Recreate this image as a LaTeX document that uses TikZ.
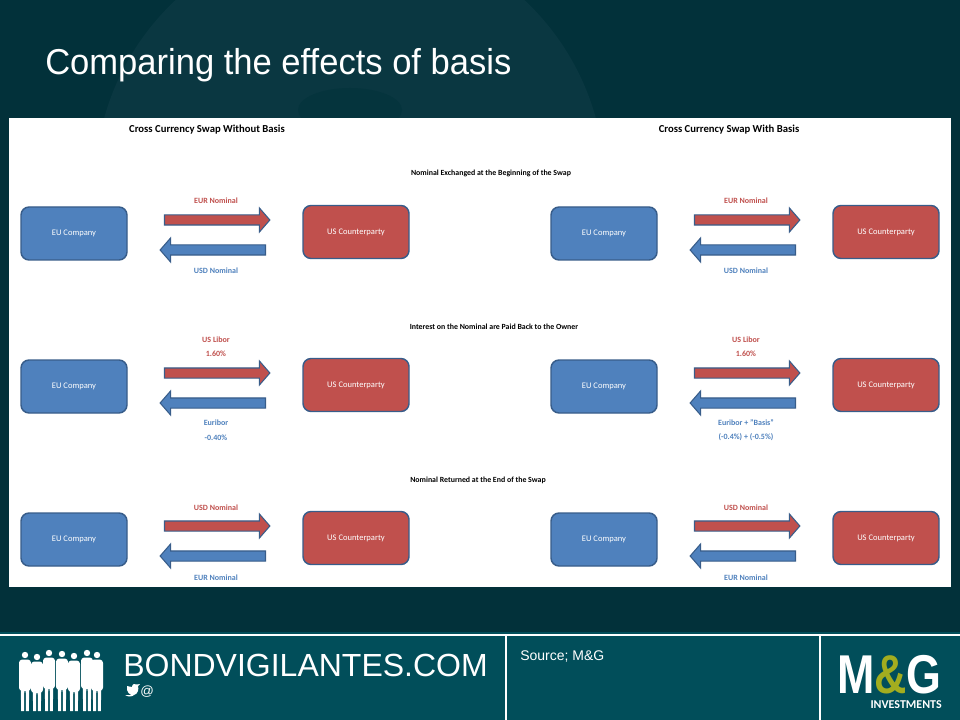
\documentclass[tikz,border=0pt]{standalone}
\usepackage{fontspec}
\setmainfont{Carlito}
\newfontfamily\arialf{Liberation Sans}
\usetikzlibrary{shapes.arrows}
\definecolor{bgdark}{HTML}{02313A}
\definecolor{globe}{HTML}{0A3741}
\definecolor{globedark}{HTML}{05343D}
\definecolor{footer}{HTML}{014E5A}
\definecolor{boxblue}{HTML}{4F81BD}
\definecolor{boxred}{HTML}{C0504D}
\definecolor{edge}{HTML}{385D8A}
\definecolor{olive}{HTML}{A3AD1F}
\tikzset{
  basebox/.style={rounded corners=6pt, draw=edge, line width=1.1pt, minimum width=79.5pt, minimum height=39.75pt, text=white, font=\fontsize{6.4}{7}\selectfont, inner sep=0pt},
  eubox/.style={basebox, fill=boxblue},
  usbox/.style={basebox, fill=boxred},
  basearr/.style={single arrow, draw=edge, line width=0.8pt, minimum height=79pt, minimum width=17.25pt, single arrow head extend=5.25pt, single arrow tip angle=98, inner xsep=0pt, inner ysep=3.375pt},
  rarr/.style={basearr, fill=boxred},
  larr/.style={basearr, fill=boxblue, shape border rotate=180},
  redlbl/.style={text=boxred, font=\bfseries\fontsize{6}{7}\selectfont, inner sep=0pt},
  bluelbl/.style={text=boxblue, font=\bfseries\fontsize{6}{7}\selectfont, inner sep=0pt},
  sechead/.style={font=\bfseries\fontsize{5.9}{7}\selectfont, inner sep=0pt},
  mainhead/.style={font=\bfseries\fontsize{8}{9}\selectfont, inner sep=0pt},
}
\begin{document}
\begin{tikzpicture}[x=0.75pt,y=-0.75pt]
\useasboundingbox (0,0) rectangle (960,720);
\fill[bgdark] (0,0) rectangle (960,720);
\begin{scope}
  \clip (0,0) rectangle (960,632);
  \fill[globe] (350,186) circle (255);
  \fill[globedark] (350,110) ellipse (52 and 22);
\end{scope}
% title
\node[anchor=base west, text=white, font=\arialf\fontsize{27}{32}\selectfont, inner sep=0pt] (title) at (45,75) {\scalebox{0.96}[1]{Comparing the effects of basis}};
% panel
\fill[white] (9,118) rectangle (951,587);
\node[mainhead] (hL) at (207,130) {Cross Currency Swap Without Basis};
\node[mainhead] (hR) at (729,130) {Cross Currency Swap With Basis};
\node[sechead] (s0) at (491,173) {Nominal Exchanged at the Beginning of the Swap};
\node[sechead] (s1) at (494,327) {Interest on the Nominal are Paid Back to the Owner};
\node[sechead] (s2) at (478,480) {Nominal Returned at the End of the Swap};
% boxes and arrows
\foreach \s in {0,1} {
  \foreach \r in {0,1,2} {
    \pgfmathsetmacro\dx{530*\s}
    \pgfmathsetmacro\dy{153*\r}
    \node[eubox] (eu\s\r) at (74+\dx,233.5+\dy) {EU Company};
    \node[usbox] (us\s\r) at (356+\dx,232+\dy) {US Counterparty};
    \node[rarr] (ra\s\r) at (215+\dx,220+\dy) {};
    \node[larr] (la\s\r) at (215+\dx,250+\dy) {};
  }
}
% labels
\foreach \s in {0,1} {
  \pgfmathsetmacro\dx{530*\s}
  \node[redlbl] (lEa\s) at (216+\dx,201) {EUR Nominal};
  \node[bluelbl] (lUa\s) at (216+\dx,270.5) {USD Nominal};
  \node[redlbl] (lLi\s) at (216+\dx,339.5) {US Libor};
  \node[redlbl] (lLp\s) at (216+\dx,353.5) {1.60\%};
  \node[redlbl] (lUc\s) at (216+\dx,507.5) {USD Nominal};
  \node[bluelbl] (lEc\s) at (216+\dx,577.5) {EUR Nominal};
}
\node[bluelbl] (lEb0) at (216,422.5) {Euribor};
\node[bluelbl] (lEp0) at (216,437.5) {-0.40\%};
\node[bluelbl] (lEb1) at (746,422.5) {Euribor + "Basis"};
\node[bluelbl] (lEp1) at (746,437.5) {(-0.4\%) + (-0.5\%)};
% footer
\fill[footer] (0,632) rectangle (960,720);
\draw[white, line width=1pt] (0,635) -- (960,635);
\draw[white, line width=1pt] (506,635) -- (506,720);
\draw[white, line width=1pt] (820,635) -- (820,720);
% people silhouettes
\foreach \px/\hy in {25/655,37/657,49/653,62/654,74/656,87/653,97/655} {
  \fill[white] (\px,\hy) circle (3.2);
  \fill[white, rounded corners=2.5pt] (\px-6,\hy+4.5) rectangle (\px+6,\hy+36);
  \fill[white] (\px-4.2,\hy+34) -- (\px-0.7,\hy+34) -- (\px-1,711) -- (\px-3.8,711) -- cycle;
  \fill[white] (\px+0.7,\hy+34) -- (\px+4.2,\hy+34) -- (\px+3.8,711) -- (\px+1,711) -- cycle;
}
\node[anchor=base west, text=white, font=\arialf\fontsize{24}{28}\selectfont, inner sep=0pt] (bv) at (123,676) {BONDVIGILANTES.COM};
% twitter bird
\fill[white] (127,686) .. controls (126,692) and (130,696) .. (134,695)
  .. controls (138,694) and (139,689) .. (138,686)
  -- (140,684) -- (137,684.5) .. controls (135,683) and (132,684) .. (132,687)
  .. controls (130,687) and (128,686) .. (127,686) -- cycle;
\fill[white] (125,695) .. controls (128,697) and (132,697) .. (134,695) -- cycle;
\node[anchor=base west, text=white, font=\arialf\fontsize{10}{12}\selectfont, inner sep=0pt] (at) at (140,695) {@};
\node[anchor=base west, text=white, font=\arialf\fontsize{10.5}{12}\selectfont, inner sep=0pt] (src) at (520,660) {Source; M\&G};
% M&G logo
\node[anchor=south east, align=right, inner sep=0pt, text=white, font=\bfseries\fontsize{9}{11.25}\selectfont] (mg) at (942,709) {{\arialf\fontsize{41}{11.25}\selectfont\scalebox{0.82}[1]{M\textcolor{olive}{\&}G}}\\ INVESTMENTS};
\end{tikzpicture}
\end{document}
